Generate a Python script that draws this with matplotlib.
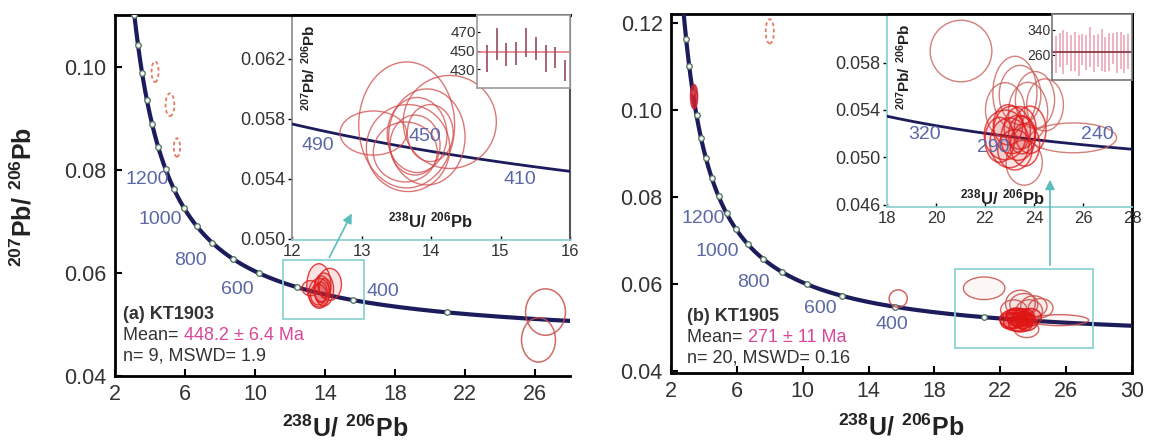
import numpy as np
import matplotlib
matplotlib.use('Agg')
import matplotlib.pyplot as plt
from matplotlib.colors import to_rgba
from matplotlib.patches import Ellipse, Rectangle, FancyArrowPatch

plt.rcParams['font.family'] = ['Liberation Sans', 'DejaVu Sans']
plt.rcParams['mathtext.fontset'] = 'custom'
plt.rcParams['mathtext.rm'] = 'Liberation Sans'
plt.rcParams['mathtext.bf'] = 'Liberation Sans:bold'

W, H = 1159, 445

# ---------------- data ----------------
# decay constants for the Tera-Wasserburg concordia
L238 = 1.55125e-10
L235 = 9.8485e-10
U_RATIO = 137.88
marker_ages = [300, 400, 500, 600, 700, 800, 900, 1000, 1100, 1200, 1300,
               1400, 1500, 1600, 1700, 1800, 1900, 2000]

# (a) KT1903 - spots outside the cluster
a_out_x = [4.29, 5.14, 5.54, 26.6, 26.2]
a_out_y = [0.0990, 0.0926, 0.0843, 0.0524, 0.0470]
a_out_sx = [0.20, 0.25, 0.18, 1.14, 0.97]
a_out_sy = [0.0020, 0.0022, 0.0018, 0.0045, 0.0043]
a_out_dashed = [True, True, True, False, False]

# (a) cluster (used in mean)
a_cl_x = [13.17, 13.65, 14.27, 13.94, 13.67, 13.77, 13.80, 13.99, 13.63]
a_cl_y = [0.05703, 0.05757, 0.05777, 0.05677, 0.05603, 0.05623, 0.05690, 0.05703, 0.05577]
a_cl_sx = [0.48, 0.69, 0.67, 0.55, 0.60, 0.36, 0.43, 0.33, 0.46]
a_cl_sy = [0.00147, 0.0042, 0.0031, 0.0032, 0.0029, 0.0020, 0.0025, 0.0019, 0.0020]

a_wm_age = [441.5, 457, 446, 447, 458.5, 452, 441.5, 442.5, 429]
a_wm_err = [14.5, 17, 12, 12.5, 15.5, 12, 14.5, 11.5, 11]
a_mean = 448.2

# (b) KT1905 - spots outside the box
b_out_x = [8.0, 3.4, 15.8]
b_out_y = [0.118, 0.1030, 0.0566]
b_out_sx = [0.25, 0.22, 0.55]
b_out_sy = [0.0028, 0.0028, 0.0020]
b_out_style = ['dashed', 'filled', 'solid']

# (b) cluster
b_cl_x = [21.02, 23.22, 25.60, 23.60, 23.43, 24.04, 24.45, 22.82, 23.76,
          22.82, 23.10, 23.35, 23.00, 23.43, 22.60, 23.63, 23.22, 22.94, 23.51, 23.84]
b_cl_y = [0.05897, 0.05543, 0.05164, 0.04954, 0.05526, 0.05484, 0.05442, 0.05400, 0.05383,
          0.05189, 0.05232, 0.05164, 0.05122, 0.05248, 0.05147, 0.05105, 0.05063, 0.05274,
          0.05189, 0.05232]
b_cl_sx = [1.26, 0.90, 1.77, 0.74, 0.85, 0.80, 0.75, 0.80, 0.80,
           0.85, 0.75, 0.70, 0.80, 0.65, 0.60, 0.60, 0.70, 0.60, 0.55, 0.65]
b_cl_sy = [0.0026, 0.0031, 0.00126, 0.0019, 0.0025, 0.0024, 0.0022, 0.0023, 0.0025,
           0.0021, 0.0020, 0.0019, 0.0021, 0.0018, 0.0019, 0.0018, 0.0017, 0.0017,
           0.0016, 0.0020]
b_cl_core = [False] * 9 + [True] * 11

b_wm_age = [262, 275, 270, 281, 266, 272, 259, 278, 268, 285,
            264, 273, 276, 261, 270, 280, 267, 274, 263, 271]
b_wm_err = [60, 55, 70, 52, 58, 62, 66, 50, 57, 64,
            60, 53, 68, 55, 61, 49, 65, 58, 62, 56]
b_mean = 271

a_lab_ages = ['1200', '1000', '800', '600', '400']
a_lab_x = [3.83, 4.57, 6.29, 8.97, 17.3]
a_lab_y = [0.0781, 0.0703, 0.0623, 0.0567, 0.0563]
b_lab_ages = ['1200', '1000', '800', '600', '400']
b_lab_x = [3.94, 4.79, 6.98, 11.05, 15.43]
b_lab_y = [0.0750, 0.0674, 0.0602, 0.0543, 0.0506]
ai_lab = ['490', '450', '410']
ai_lab_x = [12.37, 13.91, 15.28]
ai_lab_y = [0.05623, 0.05677, 0.0539]
bi_lab = ['320', '290', '240']
bi_lab_x = [19.55, 22.33, 26.57]
bi_lab_y = [0.0519, 0.0508, 0.0519]

# ---------------- helpers ----------------
CURVE = '#1c1c5c'
AGECOL = '#5a68a6'
TXT = '#333333'
CYAN = '#8fd3d3'


def tw(t_ma):
    t = np.asarray(t_ma, dtype=float) * 1e6
    e8 = np.exp(L238 * t) - 1
    e5 = np.exp(L235 * t) - 1
    return 1.0 / e8, e5 / (U_RATIO * e8)


def rect(l, t, r, b):
    return [l / W, 1 - b / H, (r - l) / W, (b - t) / H]


def fpt(px, py):
    return (px / W, 1 - py / H)


fig = plt.figure(figsize=(W / 100, H / 100), dpi=100)

curve_ages = np.linspace(150, 2600, 800)
cx, cy = tw(curve_ages)
mx, my = tw(marker_ages)


def main_axes(ax, xlim, ylim, xticks, yticks):
    ax.plot(cx, cy, color=CURVE, lw=3, zorder=3)
    ax.plot(mx, my, 'o', ms=4, mfc='#f2f7f2', mec='#4f6f5f', mew=0.9, zorder=4)
    ax.set_xlim(*xlim)
    ax.set_ylim(*ylim)
    ax.set_xticks(xticks)
    ax.set_yticks(yticks)
    ax.set_yticklabels(['%.2f' % v for v in yticks])
    ax.tick_params(direction='in', length=5, width=1.5, labelsize=15.5,
                   labelcolor=TXT, pad=6)
    for s in ['left', 'bottom', 'top', 'right']:
        ax.spines[s].set_linewidth(2)


def add_ell(ax, x, y, sx, sy, color, lw=1.0, ls='-', alpha=0.85, fill=0.0, z=5):
    ax.add_patch(Ellipse((x, y), 2 * sx, 2 * sy, fc=to_rgba(color, fill),
                         ec=to_rgba(color, alpha), lw=lw, ls=ls, zorder=z))


# ---------------- panel (a) ----------------
axA = fig.add_axes(rect(115, 15, 570, 376))
main_axes(axA, (2, 28), (0.04, 0.110), [2, 6, 10, 14, 18, 22, 26],
          [0.04, 0.06, 0.08, 0.10])
axA.spines['right'].set_visible(False)
for x, y, sx, sy, d in zip(a_out_x, a_out_y, a_out_sx, a_out_sy, a_out_dashed):
    if d:
        add_ell(axA, x, y, sx, sy, '#e0654a', lw=1.3, ls=(0, (2, 1.5)))
    else:
        add_ell(axA, x, y, sx, sy, '#c9504a', lw=1.1)
for x, y, sx, sy in zip(a_cl_x, a_cl_y, a_cl_sx, a_cl_sy):
    add_ell(axA, x, y, sx, sy, '#e02020', lw=1.0, fill=0.12)
axA.add_patch(Rectangle((11.6, 0.0511), 4.6, 0.0114, fc='none', ec=CYAN, lw=1.3, zorder=6))
for s, x, y in zip(a_lab_ages, a_lab_x, a_lab_y):
    axA.text(x, y, s, color=AGECOL, fontsize=14, ha='center', va='center', zorder=7)

t1 = axA.text(0.0176, 0.169, '(a) KT1903', transform=axA.transAxes, fontsize=13,
              fontweight='bold', color=TXT, va='center', ha='left')
t2 = axA.text(0.0176, 0.111, 'Mean= ', transform=axA.transAxes, fontsize=13,
              color=TXT, va='center', ha='left')
axA.annotate('%.1f \u00b1 6.4 Ma' % a_mean, xy=(1, 0.5), xycoords=t2, va='center',
             ha='left', fontsize=13, color='#d9479a')
axA.text(0.0176, 0.055, 'n= 9, MSWD= 1.9', transform=axA.transAxes, fontsize=13,
         color=TXT, va='center', ha='left')

# ---------------- panel (b) ----------------
axB = fig.add_axes(rect(671, 14, 1132, 373))
main_axes(axB, (2, 30), (0.0395, 0.122), [2, 6, 10, 14, 18, 22, 26, 30],
          [0.04, 0.06, 0.08, 0.10, 0.12])
for x, y, sx, sy, st in zip(b_out_x, b_out_y, b_out_sx, b_out_sy, b_out_style):
    if st == 'dashed':
        add_ell(axB, x, y, sx, sy, '#e0654a', lw=1.3, ls=(0, (2, 1.5)))
    elif st == 'filled':
        add_ell(axB, x, y, sx, sy, '#d02030', lw=1.0, fill=0.85)
    else:
        add_ell(axB, x, y, sx, sy, '#c9504a', lw=1.1)
for x, y, sx, sy, c in zip(b_cl_x, b_cl_y, b_cl_sx, b_cl_sy, b_cl_core):
    if c:
        add_ell(axB, x, y, sx, sy, '#e01515', lw=1.1, fill=0.25)
    else:
        add_ell(axB, x, y, sx, sy, '#c9504a', lw=1.0, fill=0.05)
axB.add_patch(Rectangle((19.25, 0.0453), 8.4, 0.0181, fc='none', ec=CYAN, lw=1.3, zorder=6))
for s, x, y in zip(b_lab_ages, b_lab_x, b_lab_y):
    axB.text(x, y, s, color=AGECOL, fontsize=14, ha='center', va='center', zorder=7)

u2 = axB.text(0.035, 0.156, '(b) KT1905', transform=axB.transAxes, fontsize=13,
              fontweight='bold', color=TXT, va='center', ha='left')
u3 = axB.text(0.035, 0.0975, 'Mean= ', transform=axB.transAxes, fontsize=13,
              color=TXT, va='center', ha='left')
axB.annotate('%d \u00b1 11 Ma' % b_mean, xy=(1, 0.5), xycoords=u3, va='center',
             ha='left', fontsize=13, color='#d9479a')
axB.text(0.035, 0.042, 'n= 20, MSWD= 0.16', transform=axB.transAxes, fontsize=13,
         color=TXT, va='center', ha='left')

# ---------------- insets ----------------
def inset_axes(r, xlim, ylim, xticks, yticks):
    ax = fig.add_axes(r)
    ax.set_facecolor('white')
    ax.plot(cx, cy, color=CURVE, lw=2, zorder=3)
    ax.set_xlim(*xlim)
    ax.set_ylim(*ylim)
    ax.set_xticks(xticks)
    ax.set_yticks(yticks)
    ax.set_yticklabels(['%.3f' % v for v in yticks])
    ax.tick_params(axis='y', direction='out', length=3, width=1, labelsize=13,
                   labelcolor=TXT, pad=2)
    ax.tick_params(axis='x', direction='in', length=3, width=1, labelsize=12,
                   labelcolor=TXT, pad=3)
    return ax


insA = inset_axes(rect(292, 15, 570, 240), (12, 16), (0.0499, 0.0649),
                  [12, 13, 14, 15, 16], [0.050, 0.054, 0.058, 0.062])
insA.spines['top'].set_linewidth(2)
insA.spines['top'].set_color('black')
insA.spines['right'].set_color('#555555')
insA.spines['right'].set_linewidth(1.5)
insA.spines['left'].set_color('#8a8a8a')
insA.spines['left'].set_linewidth(1.2)
insA.spines['bottom'].set_color(CYAN)
insA.spines['bottom'].set_linewidth(1.3)
for x, y, sx, sy in zip(a_cl_x, a_cl_y, a_cl_sx, a_cl_sy):
    add_ell(insA, x, y, sx, sy, '#d24a4a', lw=1.0, alpha=0.75)
for s, x, y in zip(ai_lab, ai_lab_x, ai_lab_y):
    insA.text(x, y, s, color=AGECOL, fontsize=14, ha='center', va='center', zorder=7)

insB = inset_axes(rect(887, 14, 1132, 207), (18, 28), (0.0458, 0.0621),
                  [18, 20, 22, 24, 26, 28], [0.046, 0.050, 0.054, 0.058])
for s in ['top', 'right']:
    insB.spines[s].set_linewidth(2)
    insB.spines[s].set_color('black')
for s in ['left', 'bottom']:
    insB.spines[s].set_color(CYAN)
    insB.spines[s].set_linewidth(1.3)
for x, y, sx, sy, c in zip(b_cl_x, b_cl_y, b_cl_sx, b_cl_sy, b_cl_core):
    if c:
        add_ell(insB, x, y, sx, sy, '#e01a1a', lw=1.1, alpha=0.75, fill=0.05)
    else:
        add_ell(insB, x, y, sx, sy, '#c9605a', lw=1.0, alpha=0.8)
for s, x, y in zip(bi_lab, bi_lab_x, bi_lab_y):
    insB.text(x, y, s, color=AGECOL, fontsize=14, ha='center', va='center', zorder=7)

# inset axis titles
for (px, py) in [(309, 68), (904, 67)]:
    fig.text(*fpt(px, py), r'$\mathbf{^{207}Pb/\ ^{206}Pb}$', rotation=90,
             ha='center', va='center', fontsize=11, color='#222222')
for (px, py) in [(430, 220), (1002, 197)]:
    fig.text(*fpt(px, py), r'$\mathbf{^{238}U/\ ^{206}Pb}$',
             ha='center', va='center', fontsize=12, color='#222222')

# ---------------- weighted mean mini plots ----------------
miniA = fig.add_axes(rect(477, 15, 570, 88))
miniA.set_facecolor('white')
ia = np.arange(1, len(a_wm_age) + 1)
miniA.axhline(a_mean, color='#e07a8a', lw=1.2)
miniA.errorbar(ia, a_wm_age, yerr=a_wm_err, fmt='none', ecolor='#9a4a5a', elinewidth=1.2)
miniA.set_xlim(0, 9.5)
miniA.set_ylim(410, 488)
miniA.set_xticks([])
miniA.set_yticks([430, 450, 470])
miniA.tick_params(axis='y', direction='in', length=2, labelsize=11, labelcolor=TXT, pad=1)
for s in miniA.spines.values():
    s.set_color('#999999')
    s.set_linewidth(1.2)

miniB = fig.add_axes(rect(1052, 14, 1132, 80))
miniB.set_facecolor('white')
ib = np.arange(1, len(b_wm_age) + 1)
miniB.errorbar(ib, b_wm_age, yerr=b_wm_err, fmt='none', ecolor='#e8a0b0', elinewidth=1.1)
miniB.axhline(b_mean, color='#8a3a4a', lw=1.3)
miniB.set_xlim(0, 21)
miniB.set_ylim(180, 391)
miniB.set_xticks([])
miniB.set_yticks([260, 340])
miniB.tick_params(axis='y', direction='in', length=2, labelsize=10, labelcolor=TXT, pad=1)
for s in miniB.spines.values():
    s.set_color('#777777')
    s.set_linewidth(1.2)

# ---------------- arrows ----------------
for (p0, p1) in [((328, 260), (353, 211)), ((1050, 268), (1050, 177))]:
    fig.add_artist(FancyArrowPatch(fpt(*p0), fpt(*p1), transform=fig.transFigure,
                                   arrowstyle='-|>', mutation_scale=14,
                                   color='#5bbdbd', lw=1.2, zorder=20))

# ---------------- main axis labels ----------------
fig.text(*fpt(23, 197), r'$\mathbf{^{207}Pb/\ ^{206}Pb}$', rotation=90,
         ha='center', va='center', fontsize=18, color='#222222')
fig.text(*fpt(345, 428), r'$\mathbf{^{238}U/\ ^{206}Pb}$',
         ha='center', va='center', fontsize=18, color='#222222')
fig.text(*fpt(901, 427), r'$\mathbf{^{238}U/\ ^{206}Pb}$',
         ha='center', va='center', fontsize=18, color='#222222')

fig.savefig('out.png', dpi=100, facecolor='white')
